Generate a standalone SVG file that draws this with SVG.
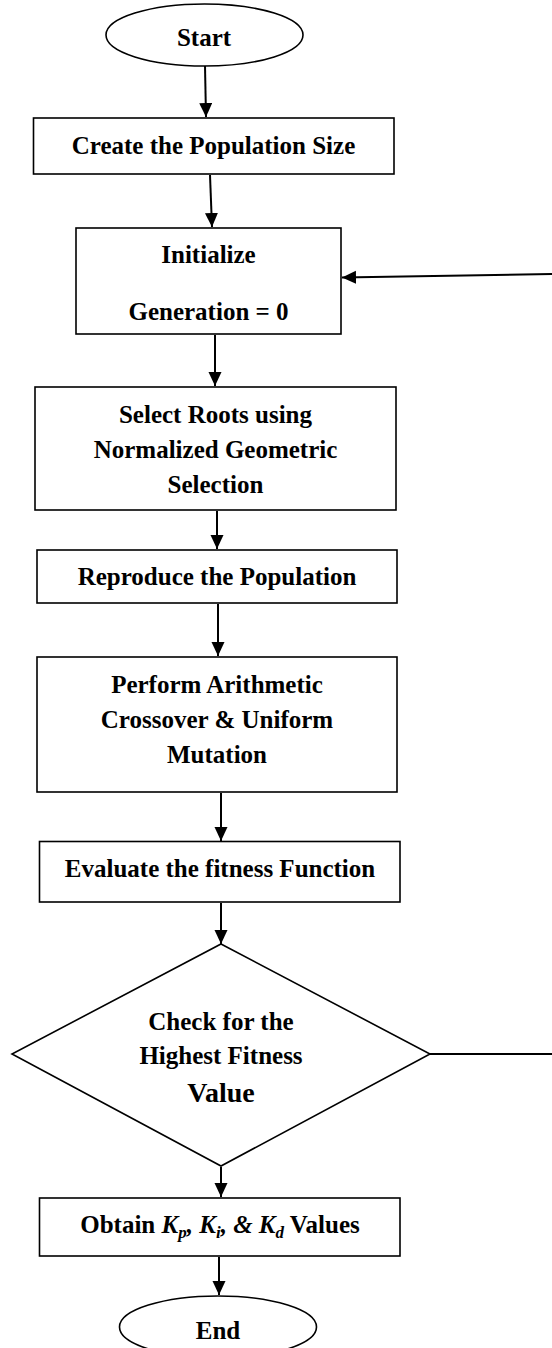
<svg xmlns="http://www.w3.org/2000/svg" width="552" height="1348" viewBox="0 0 552 1348">
<style>
  .shape { fill: #ffffff; stroke: #000000; stroke-width: 1.6; }
  .conn { fill: none; stroke: #000000; stroke-width: 2; }
  .t { font-family: "Liberation Serif", "Times New Roman", serif; font-weight: bold; font-size: 25px; fill: #000000; text-anchor: middle; }
  .it { font-style: italic; }
  .sub { font-style: italic; font-size: 17px; }
</style>
<defs>
  <marker id="arr" markerUnits="userSpaceOnUse" markerWidth="14" markerHeight="14" refX="14" refY="6.5" orient="auto">
    <path d="M0,0 L14,6.5 L0,13 z" fill="#000000"/>
  </marker>
</defs>
<rect x="0" y="0" width="552" height="1348" fill="#ffffff"/>

<g id="connectors">
  <line class="conn" x1="205" y1="66" x2="206" y2="117" marker-end="url(#arr)"/>
  <line class="conn" x1="210" y1="175" x2="212" y2="227" marker-end="url(#arr)"/>
  <line class="conn" x1="215" y1="335" x2="215" y2="386" marker-end="url(#arr)"/>
  <line class="conn" x1="217" y1="511" x2="217" y2="549" marker-end="url(#arr)"/>
  <line class="conn" x1="218" y1="604" x2="218" y2="656" marker-end="url(#arr)"/>
  <line class="conn" x1="221" y1="793" x2="221" y2="841" marker-end="url(#arr)"/>
  <line class="conn" x1="221" y1="903" x2="221" y2="944" marker-end="url(#arr)"/>
  <line class="conn" x1="221" y1="1167" x2="221" y2="1197" marker-end="url(#arr)"/>
  <line class="conn" x1="219" y1="1257" x2="219" y2="1295" marker-end="url(#arr)"/>
  <path class="conn" d="M430,1054 L556,1054 L556,274 L342,277.5" marker-end="url(#arr)"/>
</g>

<g id="start">
  <ellipse class="shape" cx="204.5" cy="35" rx="98.5" ry="31"/>
  <text class="t" x="204" y="46">Start</text>
</g>

<g id="create">
  <rect class="shape" x="33.5" y="118" width="360.5" height="56"/>
  <text class="t" x="213.5" y="154">Create the Population Size</text>
</g>

<g id="initialize">
  <rect class="shape" x="76" y="228" width="265" height="106"/>
  <text class="t" x="208.5" y="263">Initialize</text>
  <text class="t" x="208.5" y="320">Generation = 0</text>
</g>

<g id="select">
  <rect class="shape" x="35" y="387" width="361" height="123"/>
  <text class="t" x="215.5" y="423">Select Roots using</text>
  <text class="t" x="215.5" y="458">Normalized Geometric</text>
  <text class="t" x="215.5" y="493">Selection</text>
</g>

<g id="reproduce">
  <rect class="shape" x="37" y="550" width="360" height="53"/>
  <text class="t" x="217" y="585">Reproduce the Population</text>
</g>

<g id="perform">
  <rect class="shape" x="37" y="657" width="360" height="135"/>
  <text class="t" x="217" y="693">Perform Arithmetic</text>
  <text class="t" x="217" y="728">Crossover &amp; Uniform</text>
  <text class="t" x="217" y="763">Mutation</text>
</g>

<g id="evaluate">
  <rect class="shape" x="39.5" y="841.5" width="360.5" height="60.5"/>
  <text class="t" x="220" y="877">Evaluate the fitness Function</text>
</g>

<g id="check">
  <polygon class="shape" points="221,944 430,1054 221,1166 12,1054"/>
  <text class="t" x="221" y="1030">Check for the</text>
  <text class="t" x="221" y="1064">Highest Fitness</text>
  <text class="t" x="221" y="1102" style="font-size:28px">Value</text>
</g>

<g id="obtain">
  <rect class="shape" x="39.5" y="1198" width="360.5" height="58"/>
  <text class="t" x="220" y="1233">Obtain <tspan class="it">K</tspan><tspan class="sub" dy="5">p</tspan><tspan class="it" dy="-5">, K</tspan><tspan class="sub" dy="5">i</tspan><tspan class="it" dy="-5">, &amp; K</tspan><tspan class="sub" dy="5">d</tspan><tspan dy="-5"> Values</tspan></text>
</g>

<g id="end">
  <ellipse class="shape" cx="218" cy="1327" rx="98.5" ry="31"/>
  <text class="t" x="218" y="1339">End</text>
</g>
</svg>
